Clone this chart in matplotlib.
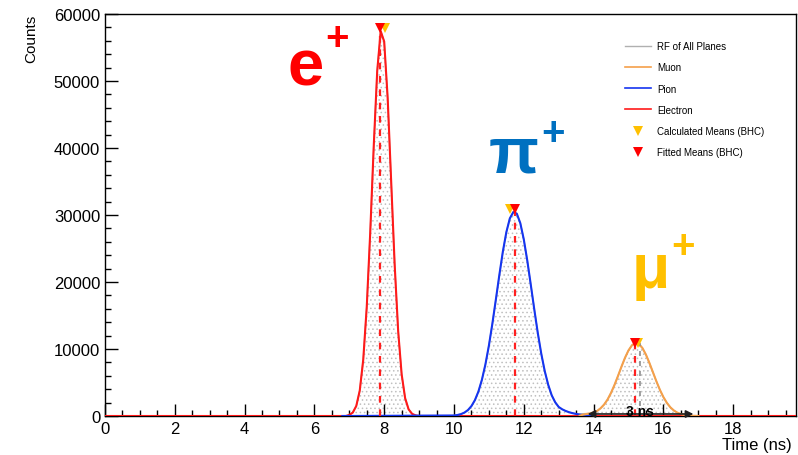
import numpy as np
import matplotlib
matplotlib.use("Agg")
import matplotlib.pyplot as plt
from matplotlib.ticker import MultipleLocator

plt.rcParams['font.family'] = ['Liberation Sans', 'DejaVu Sans']
plt.rcParams['hatch.color'] = '#c0c0c0'
plt.rcParams['hatch.linewidth'] = 0.6

# ---------------- data ----------------
step = 0.1
e_x0 = 7.0
e_counts = [154, 513, 1495, 3800, 8415, 16270, 27390, 40210, 51480, 57440,
            55890, 47410, 35060, 22600, 12700, 6230, 2660, 990, 322, 91]
pi_x0 = 10.0
pi_counts = [77, 150, 282, 510, 887, 1480, 2372, 3654, 5408, 7690,
             10500, 13790, 17390, 21070, 24530, 27430, 29490, 30440, 30200, 28790,
             26360, 23200, 19610, 15930, 12430, 9320, 6710, 4650, 3090, 2050,
             1350, 1000, 750, 560, 420, 310, 220, 140, 70, 20]
mu_x0 = 13.6
mu_counts = [50, 200, 300, 380, 550, 750, 1150, 1700, 2455, 3454,
             4649, 5984, 7372, 8687, 9791, 10560, 10890, 10750, 10140, 9160,
             7913, 6540, 5170, 3910, 2829, 1958, 1296, 821, 497, 288,
             160, 85, 40, 15]

species = ['Electron', 'Pion', 'Muon']
fitted_means = [7.88, 11.75, 15.19]
calc_means = [8.01, 11.61, 15.26]
marker_heights = [57900, 30900, 10970]
muon_extra_mean = 15.33

x_min, x_max = 0.0, 19.8
y_max = 60000

big_labels = ['e', '\u03c0', '\u03bc']
big_colors = ['#ff0000', '#0070c0', '#ffc000']

# ---------------- build grid ----------------
grid = np.round(np.arange(x_min, x_max + 1e-9, step), 2)

def on_grid(x0, vals):
    arr = np.zeros_like(grid)
    i0 = int(round((x0 - x_min) / step))
    arr[i0:i0 + len(vals)] = vals
    return arr

e_full = on_grid(e_x0, e_counts)
pi_full = on_grid(pi_x0, pi_counts)
mu_full = on_grid(mu_x0, mu_counts)
rf_full = e_full + pi_full + mu_full

fig = plt.figure(figsize=(7.98, 4.56), dpi=100)
ax = fig.add_axes([105 / 798, 39 / 456, 691 / 798, 402 / 456])

# dotted fill under all-planes histogram
ax.fill_between(grid, 0, rf_full, facecolor='none', edgecolor='#c0c0c0',
                hatch='....', linewidth=0, zorder=1)
ax.plot(grid, rf_full, color='#b0b0b0', lw=1.0, zorder=2, label='RF of All Planes')

# curves
mu_x = mu_x0 + step * np.arange(len(mu_counts))
pi_x = pi_x0 + step * np.arange(len(pi_counts))
ax.plot(grid, e_full, color='#ff1a1a', lw=1.5, zorder=3)
ax.plot(np.concatenate([[6.8], pi_x, [14.0]]), np.concatenate([[0], pi_counts, [0]]),
        color='#1535f0', lw=1.5, zorder=4)
ax.plot(np.concatenate([mu_x, [17.0]]), np.concatenate([mu_counts, [0]]),
        color='#f5a04a', lw=1.5, zorder=4)
ax.plot([], [], color='#f5a04a', lw=1.2, label='Muon')
ax.plot([], [], color='#1535f0', lw=1.2, label='Pion')
ax.plot([], [], color='#ff1a1a', lw=1.2, label='Electron')

# dashed mean lines
for fm, h in zip(fitted_means, marker_heights):
    ax.plot([fm, fm], [0, h], color='#ff2020', lw=1.6, ls=(0, (3, 3)), zorder=5)
ax.plot([muon_extra_mean, muon_extra_mean], [0, marker_heights[2]],
        color='#909090', lw=1.2, ls=(0, (3, 3)), zorder=5)

# markers
ax.plot(calc_means, marker_heights, 'v', color='#ffc000', ms=7, mew=0, zorder=6,
        label='Calculated Means (BHC)')
ax.plot(fitted_means, marker_heights, 'v', color='#ff0000', ms=7, mew=0, zorder=7,
        label='Fitted Means (BHC)')

# big particle labels
ax.text(5.22, 49550, big_labels[0], color=big_colors[0], fontsize=47,
        fontweight='bold', ha='left', va='baseline')
ax.text(6.30, 54800, '+', color=big_colors[0], fontsize=29,
        fontweight='bold', ha='left', va='baseline')
ax.text(10.98, 36420, big_labels[1], color=big_colors[1], fontsize=47,
        fontweight='bold', ha='left', va='baseline')
ax.text(12.50, 40600, '+', color=big_colors[1], fontsize=29,
        fontweight='bold', ha='left', va='baseline')
ax.text(15.08, 19250, big_labels[2], color=big_colors[2], fontsize=45,
        fontweight='bold', ha='left', va='baseline')
ax.text(16.22, 23700, '+', color=big_colors[2], fontsize=29,
        fontweight='bold', ha='left', va='baseline')

# 3 ns arrow
ax.annotate('', xy=(16.86, 300), xytext=(13.83, 300),
            arrowprops=dict(arrowstyle='<|-|>', color='#202020', lw=1.2,
                            mutation_scale=11, shrinkA=0, shrinkB=0), zorder=8)
ax.text(15.32, 200, '3 ns', fontsize=10, fontweight='bold', ha='center',
        va='baseline', zorder=9)

# axes
ax.set_xlim(x_min, x_max)
ax.set_ylim(0, y_max)
ax.xaxis.set_major_locator(MultipleLocator(2))
ax.xaxis.set_minor_locator(MultipleLocator(0.5))
ax.yaxis.set_major_locator(MultipleLocator(10000))
ax.yaxis.set_minor_locator(MultipleLocator(2000))
ax.tick_params(which='both', direction='in', top=False, right=False, labelsize=12)
ax.tick_params(which='major', length=9, width=1)
ax.tick_params(which='minor', length=4.5, width=1)
for s in ax.spines.values():
    s.set_linewidth(1.0)
ax.set_xlabel('Time (ns)', fontsize=12, ha='right')
ax.xaxis.set_label_coords(0.9935, -0.052)
ax.xaxis.label.set_va('top')
ax.set_ylabel('Counts', fontsize=11, ha='right')
ax.yaxis.set_label_coords(-0.097, 1.0)

leg = ax.legend(loc='upper left', bbox_to_anchor=(625 / 798, 1 - 42 / 456),
                bbox_transform=fig.transFigure, frameon=False, fontsize=7,
                labelspacing=1.16, handlelength=2.7, handletextpad=0.6,
                borderpad=0, borderaxespad=0, numpoints=1)

fig.savefig('out.png', dpi=100)
